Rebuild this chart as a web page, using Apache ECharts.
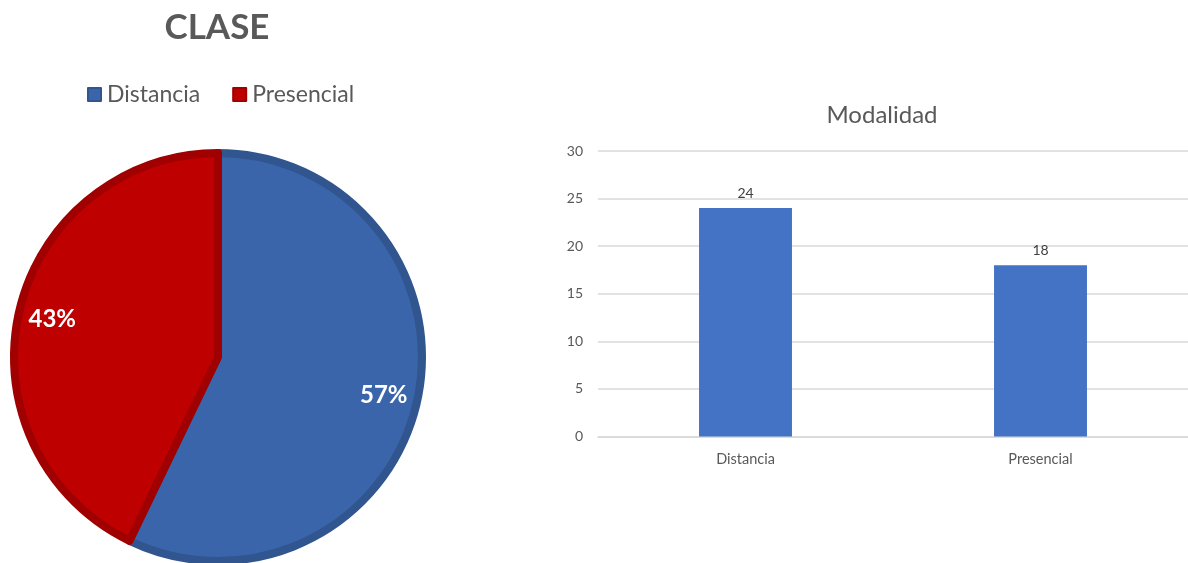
<!DOCTYPE html>
<html>
<head>
<meta charset="utf-8">
<script src="https://cdn.jsdelivr.net/npm/echarts@6/dist/echarts.min.js"></script>
<style>
html,body{margin:0;padding:0;background:#fff;}
#c{width:1188px;height:563px;}
</style>
</head>
<body>
<div id="c"></div>
<script>
var categories = ['Distancia', 'Presencial'];
var counts = [24, 18];
var pieFill = ['#3A65AB', '#BE0000'];
var pieBorder = ['#30558F', '#A00000'];
var yTicks = {min: 0, max: 30, interval: 5};

var chart = echarts.init(document.getElementById('c'));
var font = 'Lato, "Open Sans", sans-serif';

var pieData = categories.map(function (n, i) {
  return {name: n, value: counts[i], itemStyle: {color: pieFill[i], borderColor: pieBorder[i]}};
});
var labelData = categories.map(function (n, i) {
  return {name: n, value: counts[i]};
});

chart.setOption({
  animation: false,
  title: [
    {text: 'CLASE', left: 212, top: 5, textAlign: 'center',
     textStyle: {fontFamily: font, fontWeight: 'bold', fontSize: 35, color: '#595959'}},
    {text: 'Modalidad', left: 877, top: 98, textAlign: 'center',
     textStyle: {fontFamily: font, fontWeight: 'normal', fontSize: 24, color: '#595959'}}
  ],
  legend: {
    left: 87, top: 83, padding: 0, itemWidth: 13, itemHeight: 13, itemGap: 32,
    icon: 'rect',
    data: categories,
    textStyle: {fontFamily: font, fontSize: 23, color: '#595959', padding: [0, 0, 0, 1]}
  },
  grid: {left: 598, top: 151, width: 598, height: 285.5},
  xAxis: {
    type: 'category', data: categories,
    axisLine: {lineStyle: {color: '#D9D9D9', width: 1.5}},
    axisTick: {show: false},
    axisLabel: {fontFamily: font, fontSize: 14.5, color: '#595959', margin: 15}
  },
  yAxis: {
    type: 'value', min: yTicks.min, max: yTicks.max, interval: yTicks.interval,
    axisLine: {show: false}, axisTick: {show: false},
    splitLine: {lineStyle: {color: '#D9D9D9', width: 1.5}},
    axisLabel: {fontFamily: font, fontSize: 14, color: '#595959', margin: 15}
  },
  series: [
    {
      type: 'pie', center: [218, 357], radius: [0, 204],
      startAngle: 90, clockwise: true, silent: true,
      itemStyle: {borderWidth: 8},
      label: {show: false}, labelLine: {show: false},
      data: pieData
    },
    {
      type: 'pie', center: [218, 357], radius: [126, 208],
      startAngle: 90, clockwise: true, silent: true,
      itemStyle: {color: 'rgba(0,0,0,0)', borderWidth: 0},
      label: {show: true, position: 'inside', formatter: function (p) { return Math.round(p.percent) + '%'; },
              fontFamily: font, fontWeight: 'bold', fontSize: 24, color: '#ffffff'},
      labelLine: {show: false},
      data: labelData
    },
    {
      type: 'bar', data: counts, barWidth: '31.5%',
      itemStyle: {color: '#4472C4'},
      label: {show: true, position: 'top', distance: 8, fontFamily: font, fontSize: 14, color: '#404040'}
    }
  ]
});
</script>
</body>
</html>
